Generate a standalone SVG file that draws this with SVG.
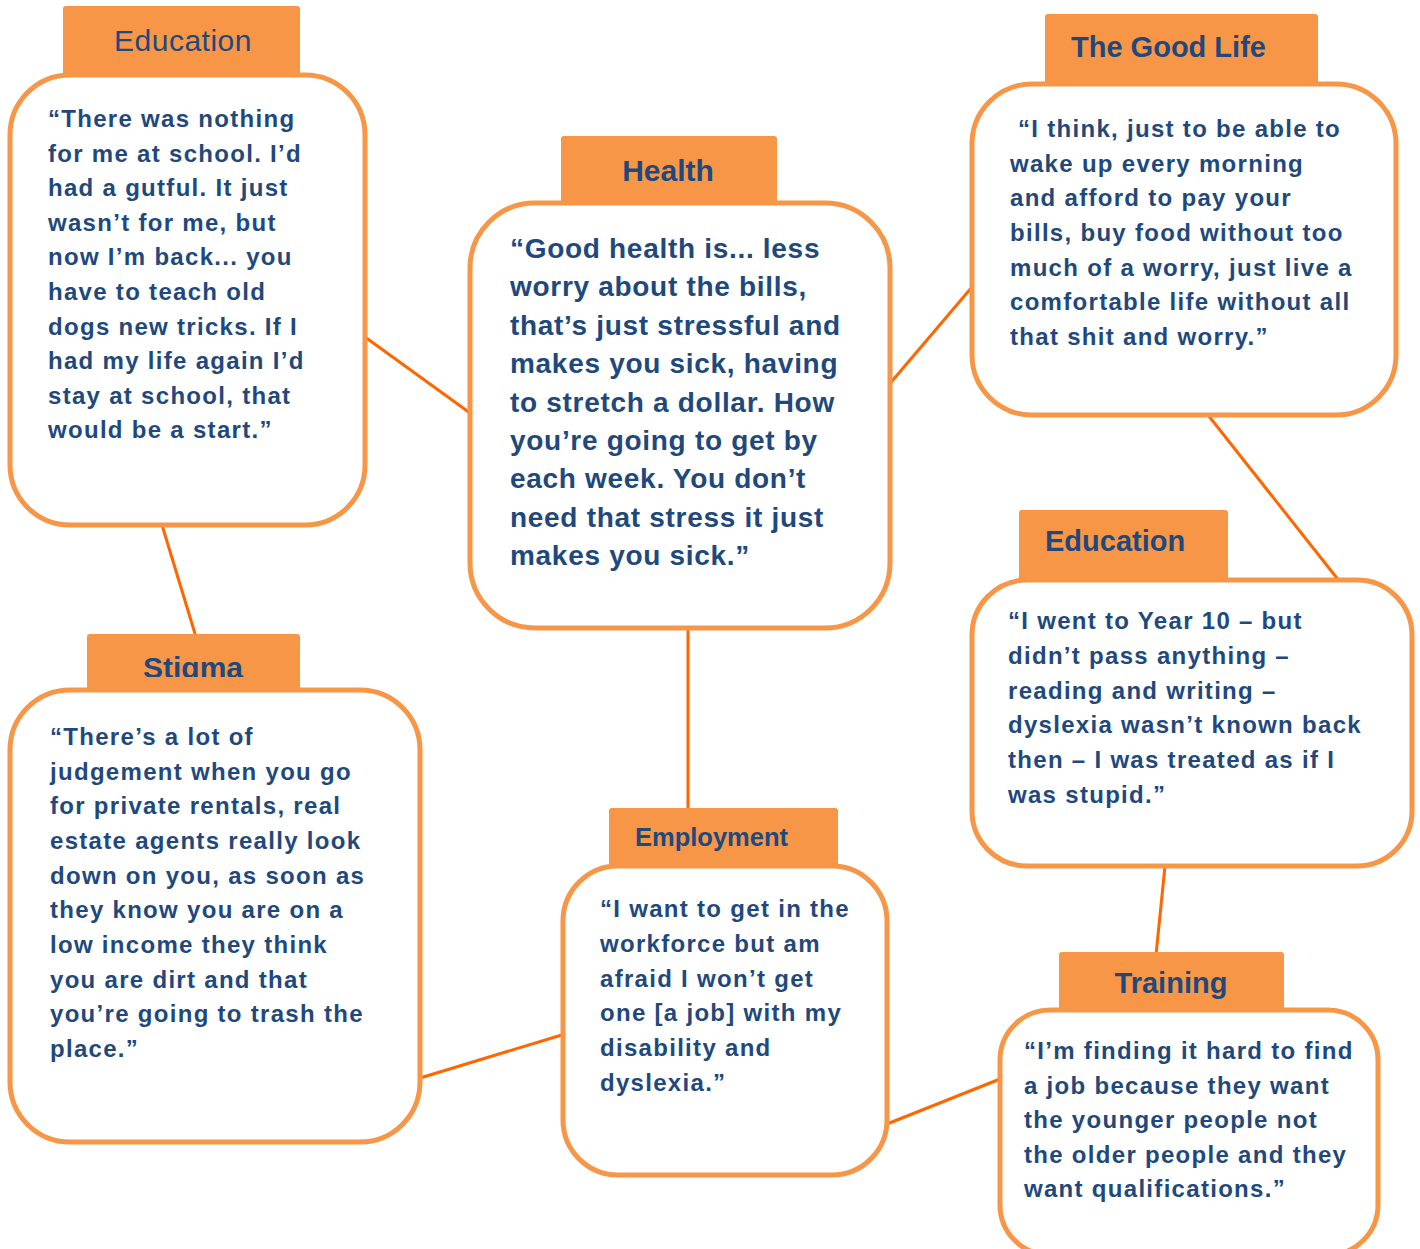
<svg xmlns="http://www.w3.org/2000/svg" width="1420" height="1249" viewBox="0 0 1420 1249">
<defs>
<style>
.tab{fill:#F79646;}
.box{fill:#FFFFFF;stroke:#F79646;stroke-width:5;}
.title{font-family:"Liberation Sans",Arial,sans-serif;font-weight:bold;fill:#1F497D;font-size:29px;}
.body{font-family:"Liberation Sans",Arial,sans-serif;font-weight:bold;fill:#1F497D;font-size:24px;letter-spacing:1.3px;}
.big{font-size:28px;letter-spacing:0.7px;}
.conn{stroke:#FF6600;stroke-width:3;fill:none;}
</style>
<clipPath id="stigmaClip"><rect x="80" y="630" width="230" height="47"/></clipPath>
</defs>
<rect width="1420" height="1249" fill="#FFFFFF"/>
<g id="connectors">
<line class="conn" x1="365" y1="337" x2="470" y2="413"/>
<line class="conn" x1="162" y1="525" x2="196" y2="637"/>
<line class="conn" x1="887" y1="387" x2="972" y2="287"/>
<line class="conn" x1="688" y1="628" x2="688" y2="810"/>
<line class="conn" x1="1208" y1="415" x2="1340" y2="582"/>
<line class="conn" x1="1165" y1="866" x2="1156" y2="955"/>
<line class="conn" x1="420" y1="1078" x2="565" y2="1034"/>
<line class="conn" x1="887" y1="1124" x2="1000" y2="1079"/>
</g>
<g id="education1">
<rect class="tab" x="63" y="6" width="237" height="72" rx="3"/>
<rect class="box" x="10" y="75" width="355" height="450" rx="60"/>
<text class="title" x="183" y="51" text-anchor="middle" style="font-weight:normal;font-size:30px;letter-spacing:0.5px">Education</text>
<text class="body" x="48" y="127">
<tspan x="48" dy="0">“There was nothing</tspan>
<tspan x="48" dy="34.6">for me at school. I’d</tspan>
<tspan x="48" dy="34.6">had a gutful. It just</tspan>
<tspan x="48" dy="34.6">wasn’t for me, but</tspan>
<tspan x="48" dy="34.6">now I’m back... you</tspan>
<tspan x="48" dy="34.6">have to teach old</tspan>
<tspan x="48" dy="34.6">dogs new tricks. If I</tspan>
<tspan x="48" dy="34.6">had my life again I’d</tspan>
<tspan x="48" dy="34.6">stay at school, that</tspan>
<tspan x="48" dy="34.6">would be a start.”</tspan>
</text>
</g>
<g id="health">
<rect class="tab" x="561" y="136" width="216" height="70" rx="3"/>
<rect class="box" x="470" y="203" width="420" height="425" rx="65"/>
<text class="title" x="668" y="181" text-anchor="middle" style="font-size:30px">Health</text>
<text class="body big" x="510" y="258">
<tspan x="510" dy="0">“Good health is... less</tspan>
<tspan x="510" dy="38.4">worry about the bills,</tspan>
<tspan x="510" dy="38.4">that’s just stressful and</tspan>
<tspan x="510" dy="38.4">makes you sick, having</tspan>
<tspan x="510" dy="38.4">to stretch a dollar. How</tspan>
<tspan x="510" dy="38.4">you’re going to get by</tspan>
<tspan x="510" dy="38.4">each week. You don’t</tspan>
<tspan x="510" dy="38.4">need that stress it just</tspan>
<tspan x="510" dy="38.4">makes you sick.”</tspan>
</text>
</g>
<g id="goodlife">
<rect class="tab" x="1045" y="14" width="273" height="73" rx="3"/>
<rect class="box" x="972" y="84" width="424" height="331" rx="60"/>
<text class="title" x="1071" y="57">The Good Life</text>
<text class="body" x="1018" y="137">
<tspan x="1018" dy="0">“I think, just to be able to</tspan>
<tspan x="1010" dy="34.67">wake up every morning</tspan>
<tspan x="1010" dy="34.67">and afford to pay your</tspan>
<tspan x="1010" dy="34.67">bills, buy food without too</tspan>
<tspan x="1010" dy="34.67">much of a worry, just live a</tspan>
<tspan x="1010" dy="34.67">comfortable life without all</tspan>
<tspan x="1010" dy="34.67">that shit and worry.”</tspan>
</text>
</g>
<g id="education2">
<rect class="tab" x="1019" y="510" width="209" height="74" rx="3"/>
<rect class="box" x="972" y="580" width="440" height="286" rx="55"/>
<text class="title" x="1045" y="551">Education</text>
<text class="body" x="1008" y="629">
<tspan x="1008" dy="0">“I went to Year 10 – but</tspan>
<tspan x="1008" dy="34.8">didn’t pass anything –</tspan>
<tspan x="1008" dy="34.8">reading and writing –</tspan>
<tspan x="1008" dy="34.8">dyslexia wasn’t known back</tspan>
<tspan x="1008" dy="34.8">then – I was treated as if I</tspan>
<tspan x="1008" dy="34.8">was stupid.”</tspan>
</text>
</g>
<g id="stigma">
<rect class="tab" x="87" y="634" width="213" height="58" rx="3"/>
<rect class="box" x="10" y="690" width="410" height="452" rx="60"/>
<text class="title" x="193" y="678" text-anchor="middle" clip-path="url(#stigmaClip)" style="font-size:30px">Stigma</text>
<text class="body" x="50" y="745">
<tspan x="50" dy="0">“There’s a lot of</tspan>
<tspan x="50" dy="34.67">judgement when you go</tspan>
<tspan x="50" dy="34.67">for private rentals, real</tspan>
<tspan x="50" dy="34.67">estate agents really look</tspan>
<tspan x="50" dy="34.67">down on you, as soon as</tspan>
<tspan x="50" dy="34.67">they know you are on a</tspan>
<tspan x="50" dy="34.67">low income they think</tspan>
<tspan x="50" dy="34.67">you are dirt and that</tspan>
<tspan x="50" dy="34.67">you’re going to trash the</tspan>
<tspan x="50" dy="34.67">place.”</tspan>
</text>
</g>
<g id="employment">
<rect class="tab" x="609" y="808" width="229" height="62" rx="3"/>
<rect class="box" x="563" y="866" width="324" height="309" rx="55"/>
<text class="title" x="635" y="846" style="font-size:25.5px">Employment</text>
<text class="body" x="600" y="917">
<tspan x="600" dy="0">“I want to get in the</tspan>
<tspan x="600" dy="34.8">workforce but am</tspan>
<tspan x="600" dy="34.8">afraid I won’t get</tspan>
<tspan x="600" dy="34.8">one [a job] with my</tspan>
<tspan x="600" dy="34.8">disability and</tspan>
<tspan x="600" dy="34.8">dyslexia.”</tspan>
</text>
</g>
<g id="training">
<rect class="tab" x="1059" y="952" width="225" height="62" rx="3"/>
<rect class="box" x="1000" y="1010" width="378" height="245" rx="50"/>
<text class="title" x="1171" y="993" text-anchor="middle">Training</text>
<text class="body" x="1024" y="1059">
<tspan x="1024" dy="0">“I’m finding it hard to find</tspan>
<tspan x="1024" dy="34.5">a job because they want</tspan>
<tspan x="1024" dy="34.5">the younger people not</tspan>
<tspan x="1024" dy="34.5">the older people and they</tspan>
<tspan x="1024" dy="34.5">want qualifications.”</tspan>
</text>
</g>
</svg>
